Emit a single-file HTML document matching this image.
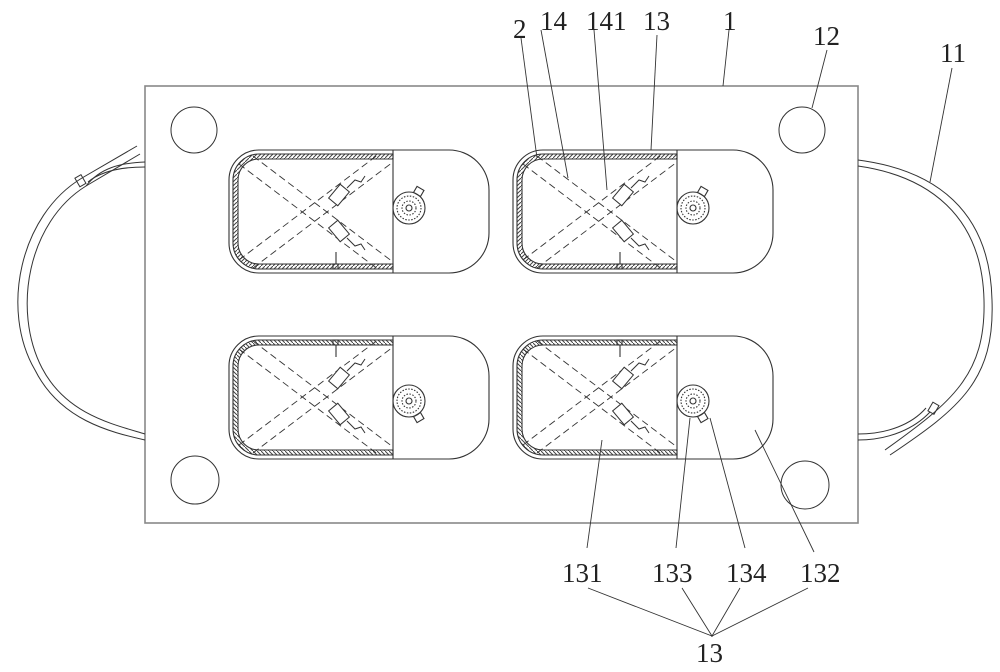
<!DOCTYPE html>
<html><head><style>body{margin:0;background:#fff}svg{display:block}text{font-family:"Liberation Serif",serif;font-size:27px;fill:#222}</style></head>
<body>
<svg width="1000" height="672" viewBox="0 0 1000 672" xmlns="http://www.w3.org/2000/svg">
<defs>
<pattern id="h" width="4" height="4" patternUnits="userSpaceOnUse"><rect width="4" height="4" fill="#fff"/><path d="M0 4L4 0" stroke="#444" stroke-width="1"/></pattern>
<g id="m" fill="none" stroke="#333" stroke-width="1.1">
<path d="M30 0H220A40 40 0 0 1 260 40V83A40 40 0 0 1 220 123H30A30 30 0 0 1 0 93V30A30 30 0 0 1 30 0Z"/>
<path d="M164 4H30A26 26 0 0 0 4 30V93A26 26 0 0 0 30 119H164V114H30A21 21 0 0 1 9 93V30A21 21 0 0 1 30 9H164Z" fill="url(#h)" stroke="#333"/>
<line x1="164" y1="0" x2="164" y2="123"/>
<g stroke-dasharray="7 4" stroke-width="0.9">
<line x1="10" y1="14" x2="150" y2="120"/><line x1="24" y1="6" x2="164" y2="112"/>
<line x1="10" y1="110" x2="150" y2="4"/><line x1="24" y1="118" x2="164" y2="12"/>
</g>
<g stroke-width="1">
<rect x="104" y="36" width="12" height="18" transform="rotate(40 110 45)" fill="#fff"/>
<rect x="104" y="72" width="12" height="18" transform="rotate(-40 110 81)" fill="#fff"/>
<path d="M118 38l8-8 6 2 4-6"/><path d="M118 88l8 8 6-2 4 6"/>
</g>
<line x1="107" y1="102" x2="107" y2="114"/><rect x="104" y="114" width="5" height="5"/>
<circle cx="180" cy="58" r="16"/><circle cx="180" cy="58" r="12" stroke-dasharray="1.5 1.5"/><circle cx="180" cy="58" r="7" stroke-dasharray="1.5 1.5"/><circle cx="180" cy="58" r="3"/>
<rect x="186" y="38" width="8" height="7" transform="rotate(30 190 41)"/>
</g>
</defs>
<rect x="145" y="86" width="713" height="437" fill="none" stroke="#888" stroke-width="1.6"/>
<g fill="none" stroke="#333" stroke-width="1">
<circle cx="194" cy="130" r="23"/><circle cx="802" cy="130" r="23"/>
<circle cx="195" cy="480" r="24"/><circle cx="805" cy="485" r="24"/>
<path d="M137 146L82 178C20 215 0 310 35 370C60 420 110 432 145 440"/>
<path d="M140 154L86 186C28 222 12 310 42 368C66 414 112 424 145 434"/>
<path d="M145 162C120 163 100 168 86 186"/>
<path d="M145 167C120 167 100 172 88 182"/>
<rect x="77" y="176" width="7" height="10" transform="rotate(-30 80 181)"/>
<path d="M858 160C935 170 990 210 992 300C995 380 960 408 890 455"/>
<path d="M858 166C928 176 982 215 984 300C986 375 952 402 885 450"/>
<path d="M858 440C890 440 915 428 930 412"/>
<path d="M858 434C888 434 912 424 926 408"/>
<rect x="930" y="403" width="7" height="10" transform="rotate(30 933 408)"/>
</g>
<use href="#m" x="229" y="150"/>
<use href="#m" x="513" y="150"/>
<use href="#m" transform="translate(229 459) scale(1 -1)"/>
<use href="#m" transform="translate(513 459) scale(1 -1)"/>
<g stroke="#333" stroke-width="0.9" fill="none">
<line x1="521" y1="38" x2="537" y2="158"/>
<line x1="541" y1="30" x2="568" y2="178"/>
<line x1="594" y1="30" x2="607" y2="190"/>
<line x1="657" y1="35" x2="651" y2="150"/>
<line x1="729" y1="30" x2="723" y2="86"/>
<line x1="827" y1="50" x2="812" y2="108"/>
<line x1="952" y1="68" x2="930" y2="182"/>
<line x1="587" y1="548" x2="602" y2="440"/>
<line x1="676" y1="548" x2="690" y2="418"/>
<line x1="745" y1="548" x2="710" y2="418"/>
<line x1="814" y1="552" x2="755" y2="430"/>
<polyline points="588,588 712,636 682,588"/><polyline points="740,588 712,636 808,588"/>
</g>
<text x="513" y="38">2</text><text x="540" y="30">14</text><text x="586" y="30">141</text>
<text x="643" y="30">13</text><text x="723" y="30">1</text><text x="813" y="45">12</text><text x="940" y="62">11</text>
<text x="562" y="582">131</text><text x="652" y="582">133</text><text x="726" y="582">134</text><text x="800" y="582">132</text>
<text x="696" y="662">13</text>
</svg>
</body></html>
